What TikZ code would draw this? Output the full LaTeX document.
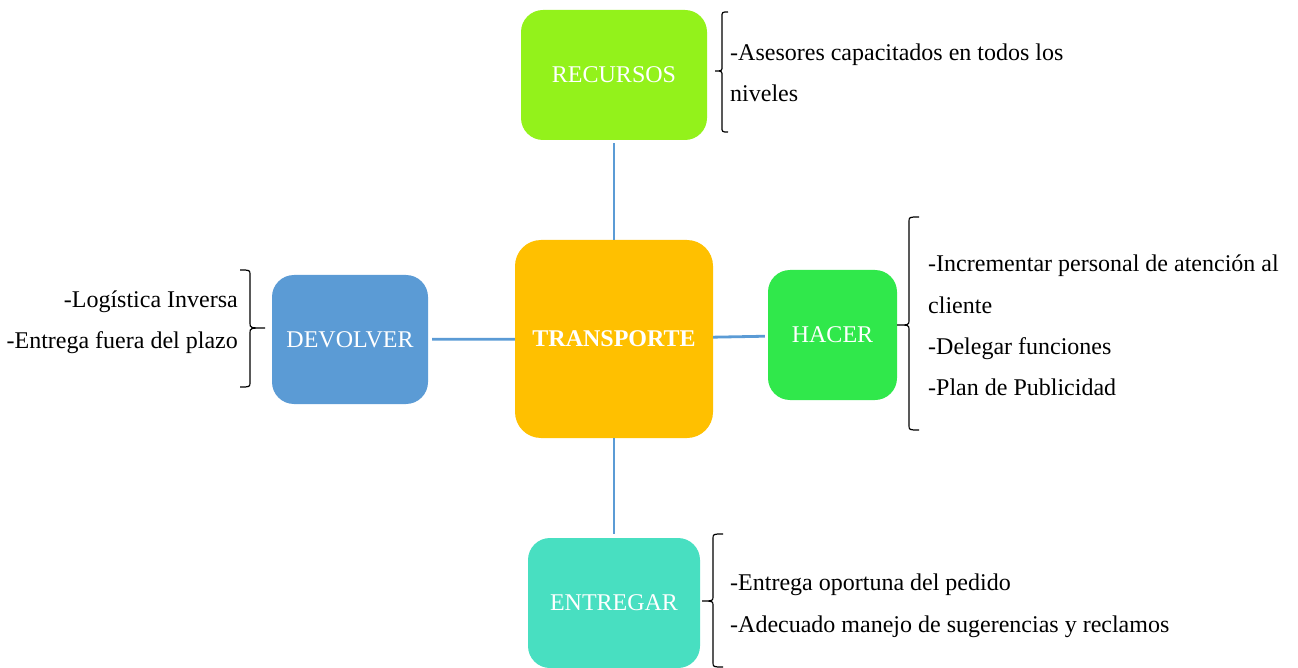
\documentclass[tikz,border=0pt]{standalone}
\usepackage{fontspec}
\setmainfont{Liberation Serif}
\definecolor{cRec}{HTML}{93F21B}
\definecolor{cTr}{HTML}{FFC000}
\definecolor{cDev}{HTML}{5B9BD5}
\definecolor{cHac}{HTML}{30E84B}
\definecolor{cEnt}{HTML}{48DFC1}
\definecolor{cLine}{HTML}{5B9BD5}
\newcommand\mybrace[6]{%
  \draw[brc] (#1,#3) .. controls (#2,#3) .. (#2,#3+5) -- (#2,#6-5)
    .. controls (#2,#6) .. (#5,#6) .. controls (#2,#6) .. (#2,#6+5)
    -- (#2,#4-5) .. controls (#2,#4) .. (#1,#4);}
\begin{document}
\begin{tikzpicture}[x=1pt,y=-1pt,
  box/.style={rectangle, rounded corners=22pt, inner sep=0pt, text=white,
    font=\fontsize{24}{28}\selectfont},
  conn/.style={draw=cLine, line width=2.8pt},
  brc/.style={draw=black, line width=1.2pt},
  txt/.style={inner sep=0pt, font=\fontsize{24}{28}\selectfont, text=black}]
\useasboundingbox (0,0) rectangle (1298,668);
\node[box, fill=cRec, minimum width=186pt, minimum height=130pt] (rec) at (614,75) {RECURSOS};
\node[box, fill=cTr, rounded corners=26pt, minimum width=198pt, minimum height=198pt, font=\fontsize{24}{28}\selectfont\bfseries] (tr) at (614,339) {TRANSPORTE};
\node[box, fill=cDev, minimum width=156pt, minimum height=129pt] (dev) at (350,339.5) {DEVOLVER};
\node[box, fill=cHac, minimum width=129pt, minimum height=130pt] (hac) at (832.5,335) {HACER};
\node[box, fill=cEnt, minimum width=172pt, minimum height=130pt] (ent) at (614,603) {ENTREGAR};
\draw[conn, shorten <=3pt] (rec) -- (tr);
\draw[conn, shorten >=4pt] (tr) -- (ent);
\draw[conn, shorten <=4pt] (dev) -- (tr);
\draw[conn, shorten >=3pt] (tr) -- (hac);
% braces
\mybrace{728}{722}{12}{132}{715}{71}
\mybrace{919}{909}{217}{430}{897}{325}
\mybrace{723}{713}{534}{667}{702}{601}
\mybrace{240}{250}{270}{387}{265}{328}
% texts
\node[txt, anchor=base west] (r1) at (730,61) {-Asesores capacitados en todos los};
\node[txt, anchor=base west] (r2) at (730,102) {niveles};
\node[txt, anchor=base west] (h1) at (928,272) {-Incrementar personal de atención al};
\node[txt, anchor=base west] (h2) at (928,313) {cliente};
\node[txt, anchor=base west] (h3) at (928,354) {-Delegar funciones};
\node[txt, anchor=base west] (h4) at (928,395) {-Plan de Publicidad};
\node[txt, anchor=base west] (e1) at (730,590) {-Entrega oportuna del pedido};
\node[txt, anchor=base west] (e2) at (730,632) {-Adecuado manejo de sugerencias y reclamos};
\node[txt, anchor=base east] (d1) at (238,307) {-Logística Inversa};
\node[txt, anchor=base east] (d2) at (238,348) {-Entrega fuera del plazo};
\end{tikzpicture}
\end{document}
